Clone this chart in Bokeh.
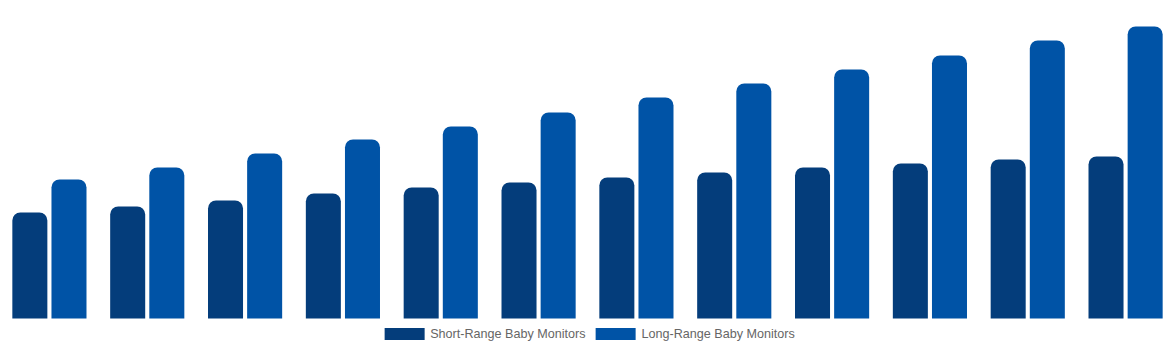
from bokeh.plotting import figure
from bokeh.models import ColumnDataSource, FactorRange, Range1d, Legend, LegendItem
from bokeh.transform import dodge
from bokeh.embed import file_html
from bokeh.resources import INLINE

categories = ["2019", "2020", "2021", "2022", "2023", "2024",
              "2025", "2026", "2027", "2028", "2029", "2030"]
short_range = [106, 112, 118, 125, 131, 136, 141, 146, 151, 155, 159, 162]
long_range = [139, 151, 165, 179, 192, 206, 221, 235, 249, 263, 278, 292]

source = ColumnDataSource(dict(cat=categories, short=short_range, long=long_range))

p = figure(x_range=FactorRange(*categories), y_range=Range1d(-32, 318),
           width=1174, height=350, output_backend="svg", toolbar_location=None,
           min_border=0, min_border_left=0, min_border_right=0,
           min_border_top=0, min_border_bottom=0)
p.axis.visible = False
p.grid.visible = False
p.outline_line_color = None
p.x_range.range_padding = 0

r1 = p.vbar(x=dodge("cat", -0.2, range=p.x_range), top="short", width=0.358,
            source=source, fill_color="#043d7b", line_color=None,
            border_radius=(8, 8, 0, 0))
r2 = p.vbar(x=dodge("cat", 0.2, range=p.x_range), top="long", width=0.358,
            source=source, fill_color="#0053a6", line_color=None,
            border_radius=(8, 8, 0, 0))

legend = Legend(items=[LegendItem(label="Short-Range Baby Monitors", renderers=[r1]),
                       LegendItem(label="Long-Range Baby Monitors", renderers=[r2])],
                location="bottom_center", orientation="horizontal",
                glyph_width=50, glyph_height=15, label_height=12,
                label_standoff=1, spacing=5, padding=0, margin=9,
                border_line_color=None, background_fill_alpha=0,
                label_text_font="Liberation Sans", label_text_font_size="12.6px",
                label_text_color="#666666")
p.add_layout(legend, "center")

open("out.html", "w").write(file_html(p, INLINE))
